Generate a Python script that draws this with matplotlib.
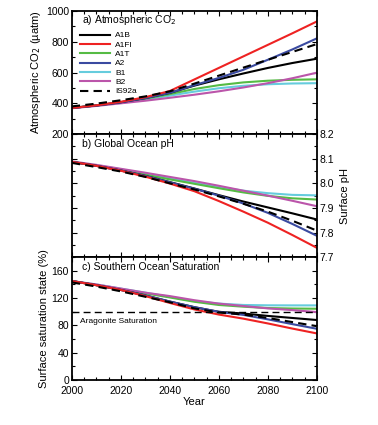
import matplotlib
matplotlib.use("Agg")
import matplotlib.pyplot as plt
from matplotlib.ticker import MultipleLocator

plt.rcParams['font.family'] = ['Liberation Sans', 'DejaVu Sans']

years = [2000, 2010, 2020, 2030, 2040, 2050, 2060, 2070, 2080, 2090, 2100]
scenarios = ["A1B", "A1FI", "A1T", "A2", "B1", "B2", "IS92a"]
colors = ["#000000", "#ee2222", "#55bb44", "#3a4aa0", "#66ccdd", "#bb55aa", "#000000"]
styles = ["-", "-", "-", "-", "-", "-", "--"]

co2_A1B   = [370, 386, 407, 434, 468, 515, 556, 594, 630, 662, 690]
co2_A1FI  = [370, 387, 410, 440, 480, 555, 630, 705, 780, 855, 932]
co2_A1T   = [370, 386, 406, 430, 460, 493, 518, 536, 547, 553, 556]
co2_A2    = [370, 386, 407, 434, 468, 518, 565, 618, 683, 750, 822]
co2_B1    = [370, 385, 403, 425, 450, 476, 498, 514, 524, 529, 531]
co2_B2    = [368, 383, 400, 417, 436, 456, 478, 503, 531, 563, 599]
co2_IS92a = [380, 398, 420, 445, 478, 528, 580, 632, 683, 734, 785]

ph_A1B   = [8.087, 8.071, 8.052, 8.030, 8.005, 7.979, 7.952, 7.926, 7.902, 7.878, 7.853]
ph_A1FI  = [8.087, 8.071, 8.051, 8.027, 7.999, 7.968, 7.928, 7.885, 7.840, 7.790, 7.738]
ph_A1T   = [8.087, 8.072, 8.054, 8.035, 8.016, 7.998, 7.980, 7.963, 7.949, 7.939, 7.934]
ph_A2    = [8.087, 8.071, 8.052, 8.030, 8.004, 7.978, 7.950, 7.918, 7.880, 7.835, 7.787]
ph_B1    = [8.087, 8.073, 8.057, 8.039, 8.020, 8.002, 7.985, 7.970, 7.960, 7.953, 7.951]
ph_B2    = [8.089, 8.075, 8.059, 8.043, 8.026, 8.009, 7.990, 7.970, 7.950, 7.929, 7.907]
ph_IS92a = [8.083, 8.066, 8.048, 8.026, 8.000, 7.975, 7.947, 7.917, 7.885, 7.848, 7.808]

om_A1B   = [145, 139, 132, 124, 115, 106.8, 100, 97.5, 94, 91, 88]
om_A1FI  = [145, 139, 132, 123, 113, 103.5, 96, 90, 83, 75.5, 68.4]
om_A1T   = [145, 139, 133, 127, 121, 114.7, 110, 107.5, 105.5, 104.8, 104.5]
om_A2    = [145, 139, 132, 124, 115, 106.8, 100, 95.5, 89, 82, 75.2]
om_B1    = [145, 140, 134, 128, 122, 115.7, 112, 110, 109.5, 109.4, 109.4]
om_B2    = [145, 140, 134, 128, 123, 117, 112, 108.5, 105, 102.5, 99.6]
om_IS92a = [143, 137, 130, 122, 114, 105, 99, 96, 91, 85, 79]

co2 = [co2_A1B, co2_A1FI, co2_A1T, co2_A2, co2_B1, co2_B2, co2_IS92a]
ph = [ph_A1B, ph_A1FI, ph_A1T, ph_A2, ph_B1, ph_B2, ph_IS92a]
om = [om_A1B, om_A1FI, om_A1T, om_A2, om_B1, om_B2, om_IS92a]

fig = plt.figure(figsize=(3.78, 4.25), dpi=100)
L, W = 0.19, 0.648
H = 0.2895
axa = fig.add_axes([L, 0.974 - H, W, H])
axb = fig.add_axes([L, 0.974 - 2 * H, W, H])
axc = fig.add_axes([L, 0.974 - 3 * H, W, H])

for ax, data in [(axa, co2), (axb, ph), (axc, om)]:
    for i in [4, 2, 5, 0, 3, 1, 6]:
        ax.plot(years, data[i], color=colors[i], ls=styles[i], lw=1.5,
                dashes=(4, 2.5) if styles[i] == "--" else (None, None),
                label=scenarios[i])
    ax.set_xlim(2000, 2100)
    ax.xaxis.set_major_locator(MultipleLocator(20))
    ax.xaxis.set_minor_locator(MultipleLocator(5))
    ax.tick_params(which='both', direction='in', top=True, right=True,
                   labelsize=7.5, width=0.8, pad=2)
    ax.tick_params(which='major', length=3.5)
    ax.tick_params(which='minor', length=2.5)
    for s in ax.spines.values():
        s.set_linewidth(1.3)

# panel a
axa.set_ylim(200, 1000)
axa.yaxis.set_major_locator(MultipleLocator(200))
axa.yaxis.set_minor_locator(MultipleLocator(100))
axa.tick_params(labelbottom=False)
axa.set_ylabel("Atmospheric CO$_2$ (µatm)", fontsize=8, labelpad=2)
axa.text(0.04, 0.93, "a) Atmospheric CO$_2$", transform=axa.transAxes,
         fontsize=7.5, va='center')
handles, labels = axa.get_legend_handles_labels()
hmap = dict(zip(labels, handles))
axa.legend([hmap[s] for s in scenarios], scenarios, loc='upper left',
           bbox_to_anchor=(0.02, 0.86), frameon=False, fontsize=6,
           handlelength=3.6, handletextpad=0.6, labelspacing=0.18,
           borderaxespad=0)

# panel b
axb.set_ylim(7.7, 8.2)
axb.yaxis.set_major_locator(MultipleLocator(0.1))
axb.yaxis.set_minor_locator(MultipleLocator(0.05))
axb.tick_params(labelbottom=False, labelleft=False, labelright=True)
axb.yaxis.set_major_formatter(plt.FuncFormatter(lambda v, p: f"{v:.1f}"))
axb.yaxis.set_label_position('right')
axb.set_ylabel("Surface pH", fontsize=8, labelpad=4)
axb.text(0.04, 0.92, "b) Global Ocean pH", transform=axb.transAxes,
         fontsize=7.5, va='center')

# panel c
axc.set_ylim(0, 180)
axc.yaxis.set_major_locator(MultipleLocator(40))
axc.yaxis.set_minor_locator(MultipleLocator(20))
axc.tick_params(axis='x', pad=4)
axc.axhline(100, color='black', lw=1.0, dashes=(5, 3))
axc.set_ylabel("Surface saturation state (%)", fontsize=8, labelpad=2)
axc.set_xlabel("Year", fontsize=8, labelpad=1)
axc.text(0.04, 0.92, "c) Southern Ocean Saturation", transform=axc.transAxes,
         fontsize=7.5, va='center')
axc.text(0.035, 0.48, "Aragonite Saturation", transform=axc.transAxes,
         fontsize=6, va='center')

fig.savefig("out.png", dpi=100)
